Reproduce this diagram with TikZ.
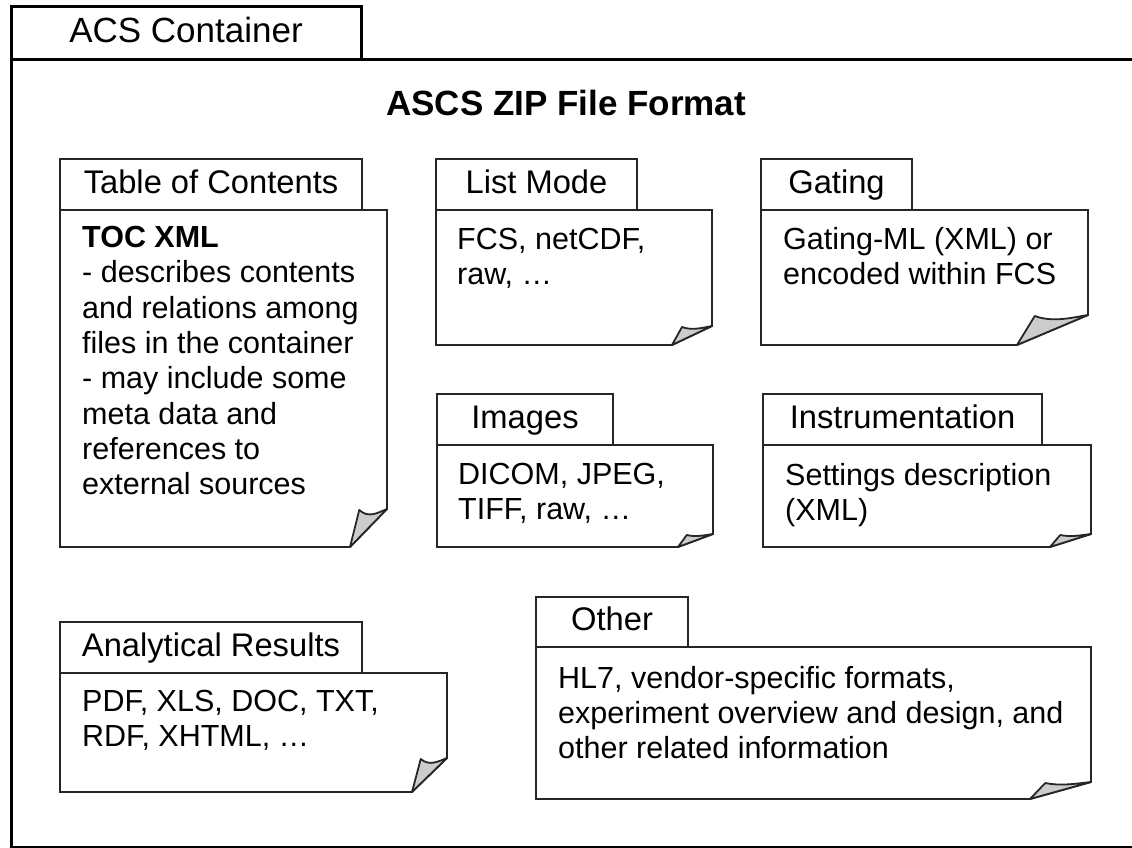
\documentclass[tikz,border=0pt]{standalone}
\usepackage{fontspec}
\setmainfont{Liberation Sans}
\begin{document}
\begin{tikzpicture}[x=1pt,y=-1pt]
\tikzstyle{outline}=[draw=black!85,line width=1.8pt]
\tikzstyle{container}=[draw=black,line width=3pt]
\tikzstyle{flap}=[outline,fill=black!20,line join=round]
\tikzstyle{tablabel}=[anchor=base,inner sep=0pt,font=\fontsize{32.7}{38}\selectfont]
\tikzstyle{bodytext}=[anchor=north west,align=left,inner sep=0pt,font=\fontsize{30.5}{35.3}\selectfont]
\tikzstyle{heading}=[anchor=base,inner sep=0pt,font=\fontsize{35}{40}\selectfont]
% folder: tab left, tab right, tab top, tab bottom, body right, body bottom, fold x, fold y
\newcommand{\folder}[8]{%
\draw[outline,fill=white] (#1,#4) rectangle (#2,#3);
\draw[outline,fill=white] (#1,#4) -- (#5,#4) -- (#5,#8) -- (#7,#6) -- (#1,#6) -- cycle;
\draw[flap] (#7,#6) -- ({#7+0.25*(#5-#7)},{#8+1}) .. controls ({#7+0.5*(#5-#7)},{#8+0.25*(#6-#8)}) and ({#7+0.75*(#5-#7)},{#8+0.1*(#6-#8)}) .. (#5,#8) -- cycle;
}
\useasboundingbox (0,0) rectangle (1132,848);
% container
\draw[container] (11,60) rectangle (1145,847);
\draw[container] (11,60) rectangle (361,7);
\node[heading] (acs) at (186,43) {ACS Container};
\node[heading,font=\fontsize{35}{40}\selectfont\bfseries] (title) at (566,116) {ASCS ZIP File Format};
% table of contents
\folder{60}{362}{159}{210}{387}{547}{350}{509}
\node[tablabel] (toc) at (211,193) {Table of Contents};
\node[bodytext] (tocbody) at (82,226) {\textbf{TOC XML}\\- describes contents\\and relations among\\files in the container\\- may include some\\meta data and\\references to\\external sources};
% list mode
\folder{436}{637}{159}{210}{712}{345}{672}{326}
\node[tablabel] (list) at (536.5,193) {List Mode};
\node[bodytext] (listbody) at (457,228) {FCS, netCDF,\\raw, …};
% gating
\folder{761}{912}{159}{210}{1088}{345}{1017}{315}
\node[tablabel] (gating) at (836.5,193) {Gating};
\node[bodytext] (gatingbody) at (783,227) {Gating-ML (XML) or\\encoded within FCS};
% images
\folder{437}{613}{394}{445}{713}{547}{678}{534}
\node[tablabel] (images) at (525,428) {Images};
\node[bodytext] (imagesbody) at (458,463) {DICOM, JPEG,\\TIFF, raw, …};
% instrumentation
\folder{763}{1042}{394}{445}{1091}{547}{1050}{534}
\node[tablabel] (instr) at (902.5,428) {Instrumentation};
\node[bodytext] (instrbody) at (785,463) {Settings description\\(XML)};
% analytical results
\folder{60}{362}{622}{673}{447}{792}{412}{758}
\node[tablabel] (results) at (211,656) {Analytical Results};
\node[bodytext] (resultsbody) at (82,690) {PDF, XLS, DOC, TXT,\\RDF, XHTML, …};
% other
\folder{536}{688}{597}{647}{1091}{799}{1030}{782}
\node[tablabel] (other) at (612,630) {Other};
\node[bodytext] (otherbody) at (558,666) {HL7, vendor-specific formats,\\experiment overview and design, and\\other related information};
\end{tikzpicture}
\end{document}
